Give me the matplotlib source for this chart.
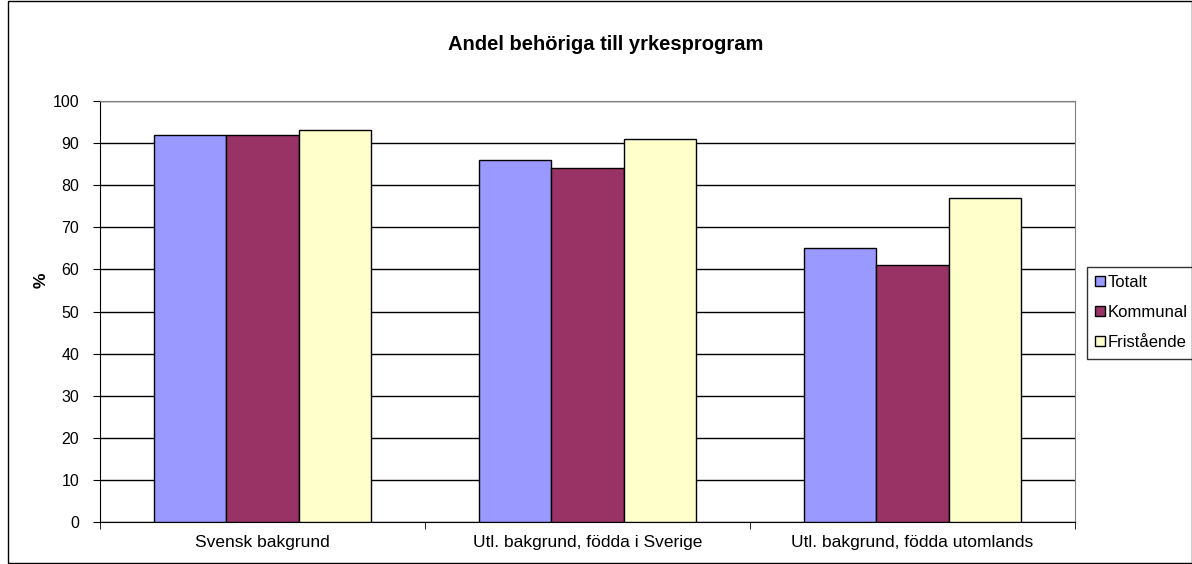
import matplotlib.pyplot as plt
import numpy as np

plt.rcParams['font.family'] = ['Liberation Sans', 'DejaVu Sans']

categories = ['Svensk bakgrund', 'Utl. bakgrund, födda i Sverige', 'Utl. bakgrund, födda utomlands']
series_names = ['Totalt', 'Kommunal', 'Fristående']
totalt = [92, 86, 65]
kommunal = [92, 84, 61]
fristaende = [93, 91, 77]
colors = ['#9999FF', '#993366', '#FFFFCC']

fig = plt.figure(figsize=(11.92, 5.64), dpi=100)
ax = fig.add_axes([100 / 1192, 1 - 522 / 564, 975 / 1192, 421 / 564])

x = np.arange(len(categories))
w = 1 / 4.5
for i, (vals, name) in enumerate(zip([totalt, kommunal, fristaende], series_names)):
    ax.bar(x + (i - 1) * w, vals, w, color=colors[i], edgecolor='black',
           linewidth=1, label=name, zorder=3)

ax.set_xlim(-0.5, 2.5)
ax.set_ylim(0, 100)
ax.set_yticks(range(0, 101, 10))
ax.yaxis.grid(True, color='black', linewidth=1, zorder=0)
ax.set_xticks(x)
ax.set_xticklabels(categories, fontsize=12.5)
ax.tick_params(axis='x', length=0, pad=9)
ax.set_xticks([-0.5, 0.5, 1.5, 2.5], minor=True)
ax.tick_params(axis='x', which='minor', length=5, direction='out')
ax.tick_params(axis='y', length=5, direction='out', labelsize=11.5, pad=10)
ax.spines['top'].set_color('#808080')
ax.spines['right'].set_color('#808080')
fig.text(41 / 1192, 1 - 280 / 564, '%', rotation=90, ha='center', va='center',
         fontsize=12.5, fontweight='bold')
fig.text(606 / 1192, 1 - 45 / 564, 'Andel behöriga till yrkesprogram',
         ha='center', va='center', fontsize=14.5, fontweight='bold')

leg = ax.legend(loc='upper left', bbox_to_anchor=(1087 / 1192, 1 - 267 / 564),
                bbox_transform=fig.transFigure, frameon=True, fancybox=False,
                fontsize=12, handlelength=0.55, handleheight=0.55, handletextpad=0.2,
                borderaxespad=0, borderpad=0.5, labelspacing=0.9)
leg.get_frame().set_edgecolor('black')
leg.get_frame().set_linewidth(1)

fig.patches.append(plt.Rectangle((8 / 1192, 0.002), 1 - 8 / 1192, 0.996,
                                 transform=fig.transFigure, fill=False,
                                 edgecolor='black', linewidth=1))

fig.savefig('out.png', dpi=100)
